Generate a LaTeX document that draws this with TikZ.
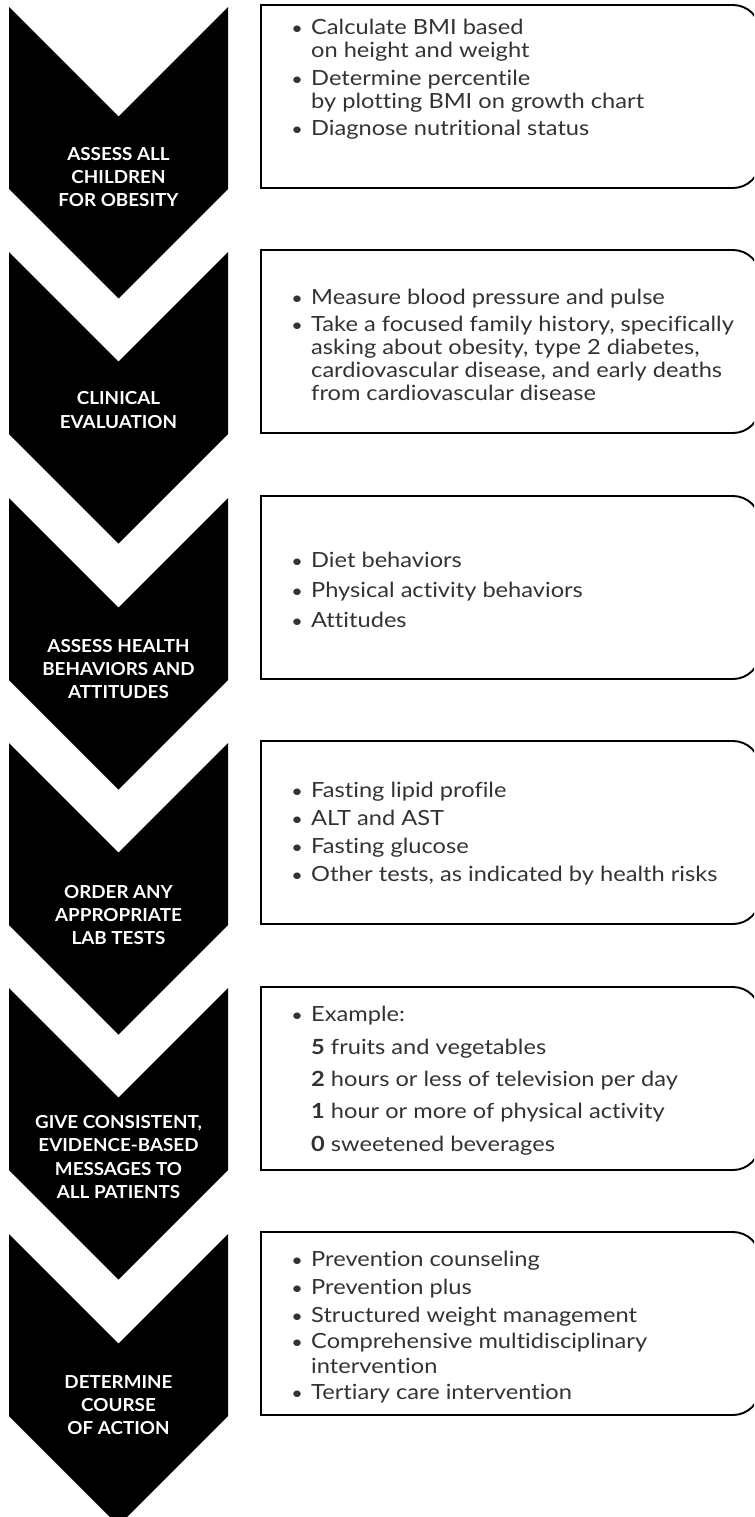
\documentclass[tikz,border=0pt]{standalone}
\usepackage{fontspec}
\setmainfont{Lato}[FakeStretch=1.05, Ligatures=NoCommon]
\newfontfamily\boxfont{Lato}[FakeStretch=1.13, Ligatures=NoCommon]
\tikzset{
	chev/.style={fill=black},
	boxline/.style={line width=1.1pt, draw=black},
	steplabel/.style={text=white, font=\bfseries\fontsize{10.2}{13.3}\selectfont, align=center, inner sep=0pt},
	bullets/.style={text=black!80, font=\boxfont\fontsize{11.9}{13}\selectfont, align=left, anchor=north west, inner sep=0pt}
}
\def\chevron(#1){\fill[chev] (9,#1) -- (118.5,#1+109.5) -- (228,#1) -- (228,#1+182) -- (118.5,#1+291.5) -- (9,#1+182) -- cycle;}
\def\sidebox(#1){\draw[boxline] (261,#1) -- (733,#1) .. controls (747.9,#1) and (760,#1+12.1) .. (760,#1+27) -- (760,#1+156) .. controls (760,#1+170.9) and (747.9,#1+183) .. (733,#1+183) -- (261,#1+183) -- cycle;}
\newcommand{\bul}{\makebox[11.3pt][l]{\fontsize{10}{10}\selectfont•}}
\newcommand{\ind}{\hspace*{11.3pt}}

\begin{document}
\begin{tikzpicture}[x=0.02cm, y=-0.02cm]
			%%%%% START %%%%%
			
			\clip (0,0) rectangle (754,1517);
			
			\chevron(7)
			\chevron(252)
			\chevron(498)
			\chevron(743)
			\chevron(988)
			\chevron(1234)
			
			\sidebox(5)
			\sidebox(250)
			\sidebox(496)
			\sidebox(741)
			\sidebox(987)
			\sidebox(1232)
			
			\node[steplabel] (lab1) at (118.5, 177) {ASSESS ALL\\CHILDREN\\FOR OBESITY};
			\node[steplabel] (lab2) at (118.5, 410) {CLINICAL\\EVALUATION};
			\node[steplabel] (lab3) at (118.5, 669) {ASSESS HEALTH\\BEHAVIORS AND\\ATTITUDES};
			\node[steplabel] (lab4) at (118.5, 915) {ORDER ANY\\APPROPRIATE\\LAB TESTS};
			\node[steplabel] (lab5) at (118.5, 1157) {GIVE CONSISTENT,\\EVIDENCE-BASED\\MESSAGES TO\\ALL PATIENTS};
			\node[steplabel] (lab6) at (118.5, 1405) {DETERMINE\\COURSE\\OF ACTION};
			
			\node[bullets] (txt1) at (291, 19) {\bul Calculate BMI based\\\ind on height and weight\\[2.8pt]\bul Determine percentile\\\ind by plotting BMI on growth chart\\[2.8pt]\bul Diagnose nutritional status};
			\node[bullets] (txt2) at (291, 289) {\bul Measure blood pressure and pulse\\[2.3pt]\bul Take a focused family history, specifically\\\ind asking about obesity, type 2 diabetes,\\\ind cardiovascular disease, and early deaths\\\ind from cardiovascular disease};
			\node[bullets] (txt3) at (291, 552) {\bul Diet behaviors\\[4pt]\bul Physical activity behaviors\\[4pt]\bul Attitudes};
			\node[bullets] (txt4) at (291, 782) {\bul Fasting lipid profile\\[2.8pt]\bul ALT and AST\\[2.8pt]\bul Fasting glucose\\[2.8pt]\bul Other tests, as indicated by health risks};
			\node[bullets] (txt5) at (291, 1006) {\bul Example:\\[5.4pt]\ind\textbf{5} fruits and vegetables\\[5.4pt]\ind\textbf{2} hours or less of television per day\\[5.4pt]\ind\textbf{1} hour or more of physical activity\\[5.4pt]\ind\textbf{0} sweetened beverages};
			\node[bullets] (txt6) at (291, 1251) {\bul Prevention counseling\\[3pt]\bul Prevention plus\\[3pt]\bul Structured weight management\\[1.5pt]\bul Comprehensive multidisciplinary\\[1.5pt]\ind intervention\\[1.5pt]\bul Tertiary care intervention};
			
			%%%%% END %%%%%
\end{tikzpicture}
\end{document}
